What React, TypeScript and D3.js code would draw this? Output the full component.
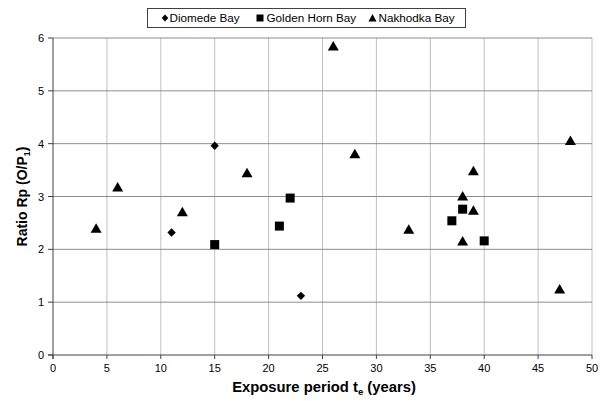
import React from "react";
import * as d3 from "d3";

// Exposure period (years) and ratio Rp for each bay
const diomedeX = [11, 15, 23];
const diomedeY = [2.32, 3.96, 1.12];

const goldenHornX = [15, 21, 22, 37, 38, 40];
const goldenHornY = [2.09, 2.44, 2.97, 2.54, 2.76, 2.16];

const nakhodkaX = [4, 6, 12, 18, 26, 28, 33, 38, 38, 39, 39, 47, 48];
const nakhodkaY = [2.39, 3.17, 2.7, 3.44, 5.84, 3.8, 2.37, 3.0, 2.15, 3.48, 2.73, 1.24, 4.05];

const xTicks = [0, 5, 10, 15, 20, 25, 30, 35, 40, 45, 50];
const yTicks = [0, 1, 2, 3, 4, 5, 6];

const W = 603;
const H = 401;
const margin = { left: 53, right: 11, top: 38, bottom: 46 };

const FONT = "'Liberation Sans', Arial, sans-serif";

type Shape = "diamond" | "square" | "triangle";

function Marker({ shape, x, y }: { shape: Shape; x: number; y: number }) {
  if (shape === "diamond") {
    const r = 4.2;
    return <path d={`M${x},${y - r}L${x + r},${y}L${x},${y + r}L${x - r},${y}Z`} fill="#000" />;
  }
  if (shape === "square") {
    const s = 4.5;
    return <rect x={x - s} y={y - s} width={s * 2} height={s * 2} fill="#000" />;
  }
  return <path d={`M${x},${y - 5.5}L${x + 5.5},${y + 4}L${x - 5.5},${y + 4}Z`} fill="#000" />;
}

export default function App() {
  const x = d3.scaleLinear().domain([0, 50]).range([margin.left, W - margin.right]);
  const y = d3.scaleLinear().domain([0, 6]).range([H - margin.bottom, margin.top]);

  const [x0, x1] = x.range();
  const [y0, y1] = y.range();

  const series: { name: string; shape: Shape; xs: number[]; ys: number[] }[] = [
    { name: "Diomede Bay", shape: "diamond", xs: diomedeX, ys: diomedeY },
    { name: "Golden Horn Bay", shape: "square", xs: goldenHornX, ys: goldenHornY },
    { name: "Nakhodka Bay", shape: "triangle", xs: nakhodkaX, ys: nakhodkaY },
  ];

  const legendItems = [
    { shape: "diamond" as Shape, label: "Diomede Bay", mx: 165, tx: 169.5 },
    { shape: "square" as Shape, label: "Golden Horn Bay", mx: 260, tx: 266.5 },
    { shape: "triangle" as Shape, label: "Nakhodka Bay", mx: 372.5, tx: 378.5 },
  ];

  return (
    <svg
      width={W}
      height={H}
      style={{ position: "absolute", left: 0, top: 0, background: "#fff" }}
      fontFamily={FONT}
    >
      <rect x={0} y={0} width={W} height={H} fill="#fff" />

      {/* vertical gridlines */}
      {xTicks.slice(1).map((t) => (
        <line key={`vx${t}`} x1={x(t)} x2={x(t)} y1={y1} y2={y0} stroke="#c0c0c0" strokeWidth={1} />
      ))}
      {/* horizontal gridlines */}
      {yTicks.slice(1).map((t) => (
        <line key={`hy${t}`} x1={x0} x2={x1} y1={y(t)} y2={y(t)} stroke="#8c8c8c" strokeWidth={1} />
      ))}

      {/* axes */}
      <line x1={x0} x2={x0} y1={y1} y2={y0 + 4} stroke="#404040" strokeWidth={1} />
      <line x1={x0 - 5} x2={x1} y1={y0} y2={y0} stroke="#404040" strokeWidth={1} />
      {yTicks.map((t) => (
        <line key={`ty${t}`} x1={x0 - 5} x2={x0} y1={y(t)} y2={y(t)} stroke="#404040" />
      ))}
      {xTicks.map((t) => (
        <line key={`tx${t}`} x1={x(t)} x2={x(t)} y1={y0} y2={y0 + 4} stroke="#404040" />
      ))}

      {/* tick labels */}
      {yTicks.map((t) => (
        <text key={`ly${t}`} x={x0 - 9} y={y(t) + 4} fontSize={11} textAnchor="end" fill="#000">
          {t}
        </text>
      ))}
      {xTicks.map((t) => (
        <text key={`lx${t}`} x={x(t)} y={y0 + 17} fontSize={11} textAnchor="middle" fill="#000">
          {t}
        </text>
      ))}

      {/* axis titles */}
      <text x={324} y={392} fontSize={14.8} fontWeight="bold" textAnchor="middle" fill="#000">
        Exposure period t<tspan fontSize={9.5} dy={3}>e</tspan>
        <tspan dy={-3}> (years)</tspan>
      </text>
      <text
        transform={`translate(27, ${(y0 + y1) / 2}) rotate(-90)`}
        fontSize={14}
        fontWeight="bold"
        textAnchor="middle"
        fill="#000"
      >
        Ratio Rp (O/P<tspan fontSize={9} dy={3}>1</tspan>
        <tspan dy={-3}>)</tspan>
      </text>

      {/* data points */}
      {series.map((s) =>
        s.xs.map((xv, i) => <Marker key={`${s.name}${i}`} shape={s.shape} x={x(xv)} y={y(s.ys[i])} />)
      )}

      {/* legend */}
      <rect x={147.5} y={8.5} width={318} height={19} fill="#fff" stroke="#404040" strokeWidth={1} />
      {legendItems.map((it) => (
        <g key={it.label}>
          {it.shape === "diamond" && (
            <path d={`M${it.mx},${14.5}L${it.mx + 3.3},${18}L${it.mx},${21.5}L${it.mx - 3.3},${18}Z`} fill="#000" />
          )}
          {it.shape === "square" && <rect x={it.mx - 3.5} y={14.5} width={7} height={7} fill="#000" />}
          {it.shape === "triangle" && (
            <path d={`M${it.mx},${14}L${it.mx + 4},${21.5}L${it.mx - 4},${21.5}Z`} fill="#000" />
          )}
          <text x={it.tx} y={22} fontSize={11.7} fill="#000">
            {it.label}
          </text>
        </g>
      ))}
    </svg>
  );
}
